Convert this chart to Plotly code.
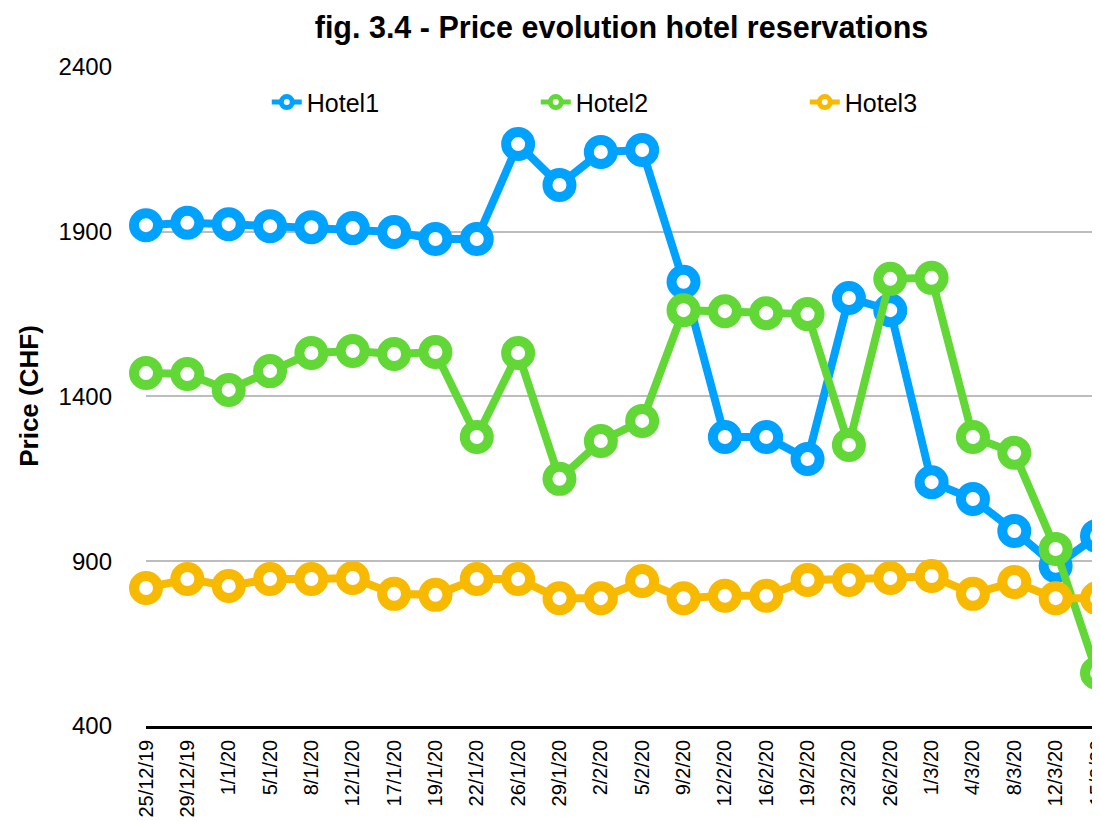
import plotly.graph_objects as go

dates = ["25/12/19", "29/12/19", "1/1/20", "5/1/20", "8/1/20", "12/1/20", "17/1/20", "19/1/20",
         "22/1/20", "26/1/20", "29/1/20", "2/2/20", "5/2/20", "9/2/20", "12/2/20", "16/2/20",
         "19/2/20", "23/2/20", "26/2/20", "1/3/20", "4/3/20", "8/3/20", "12/3/20", "15/3/20"]

hotel1 = [1920, 1927, 1923, 1917, 1914, 1911, 1899, 1878, 1878, 2166, 2042, 2142,
          2148, 1748, 1277, 1277, 1210, 1699, 1662, 1140, 1089, 992, 886, 977]
hotel2 = [1471, 1468, 1420, 1477, 1532, 1538, 1529, 1535, 1277, 1532, 1150, 1265,
          1326, 1662, 1659, 1653, 1650, 1253, 1757, 1760, 1277, 1229, 937, 561]
hotel3 = [819, 846, 825, 846, 846, 849, 801, 798, 846, 846, 788, 788,
          840, 788, 795, 795, 843, 843, 849, 855, 801, 837, 788, 788]

names = ["Hotel1", "Hotel2", "Hotel3"]
colors = ["#00A2FF", "#61D836", "#F8BA00"]
series = [hotel1, hotel2, hotel3]

FONT = "Liberation Sans, Arial, Helvetica, sans-serif"

fig = go.Figure()
for name, col, vals in zip(names, colors, series):
    fig.add_trace(go.Scatter(
        x=list(range(len(dates))), y=vals, mode="lines+markers", name=name,
        showlegend=False, cliponaxis=False,
        line=dict(color=col, width=8),
        marker=dict(symbol="circle", size=24, color="white", line=dict(color=col, width=10)),
    ))
for name, col in zip(names, colors):
    fig.add_trace(go.Scatter(
        x=[None], y=[None], mode="lines+markers", name=name,
        line=dict(color=col, width=5),
        marker=dict(symbol="circle", size=11, color="white", line=dict(color=col, width=5)),
    ))

fig.update_layout(
    template="none",
    width=1092, height=813,
    margin=dict(l=138, r=3, t=58, b=95),
    paper_bgcolor="white", plot_bgcolor="white",
    font=dict(family=FONT, color="black"),
    title=dict(text="<b>fig. 3.4 - Price evolution hotel reservations</b>",
               x=0.5, xref="paper", xanchor="center", y=1 - 19 / 813, yref="container",
               yanchor="middle", font=dict(size=30.5, color="black", family=FONT)),
    showlegend=True,
    legend=dict(orientation="h", x=0.127, xanchor="left", y=0.945, yanchor="middle",
                font=dict(size=25, family=FONT), entrywidth=224, entrywidthmode="pixels",
                bgcolor="rgba(0,0,0,0)", borderwidth=0),
    xaxis=dict(range=[0, 23], tickmode="array", tickvals=list(range(len(dates))), ticktext=dates,
               tickangle=-90, tickfont=dict(size=20), showgrid=False, zeroline=False,
               showline=True, linecolor="black", linewidth=2.5, ticks="", automargin=False,
               ticklabelstandoff=3, ticklabeloverflow="allow"),
    yaxis=dict(range=[400, 2403], tickmode="array", tickvals=[400, 900, 1400, 1900, 2400],
               tickfont=dict(size=24), showgrid=True, gridcolor="#BDBDBD", gridwidth=2,
               zeroline=False, showline=False, ticks="", automargin=False,
               ticklabelstandoff=33,
               title=dict(text="<b>Price (CHF)</b>", font=dict(size=26), standoff=12)),
)

fig.write_html("out.html")
